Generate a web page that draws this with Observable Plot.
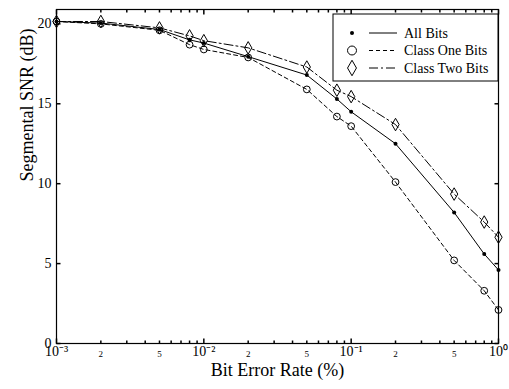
<!DOCTYPE html>
<html>
<head>
<meta charset="utf-8">
<script src="https://cdn.jsdelivr.net/npm/d3@7"></script>
<script src="https://cdn.jsdelivr.net/npm/@observablehq/plot@0.6"></script>
<style>
  html, body { margin: 0; padding: 0; background: white; }
  #chart { position: relative; width: 509px; height: 389px; }
</style>
</head>
<body>
<div id="chart"></div>
<script>
// ---- data ----
const ber = [0.001, 0.002, 0.005, 0.008, 0.01, 0.02, 0.05, 0.08, 0.1, 0.2, 0.5, 0.8, 1.0];
const allBits  = [20.15, 20.05, 19.65, 19.0, 18.8, 17.95, 16.8, 15.3, 14.5, 12.5, 8.2, 5.6, 4.6];
const classOne = [20.15, 20.0, 19.6, 18.7, 18.4, 17.9, 15.9, 14.2, 13.6, 10.1, 5.2, 3.3, 2.1];
const classTwo = [20.15, 20.15, 19.75, 19.25, 18.95, 18.5, 17.3, 15.85, 15.45, 13.7, 9.35, 7.6, 6.65];
const seriesNames = ["All Bits", "Class One Bits", "Class Two Bits"];

const yTicks = [0, 5, 10, 15, 20];
const majorX = [0.001, 0.01, 0.1, 1];
const majorXLabels = ["10\u207B\u00B3", "10\u207B\u00B2", "10\u207B\u00B9", "10\u2070"];
const minorLabelX = [0.002, 0.005, 0.02, 0.05, 0.2, 0.5];
const minorLabels = ["2", "5", "2", "5", "2", "5"];
const minorX = [0.002, 0.003, 0.004, 0.005, 0.006, 0.007, 0.008, 0.009,
                0.02, 0.03, 0.04, 0.05, 0.06, 0.07, 0.08, 0.09,
                0.2, 0.3, 0.4, 0.5, 0.6, 0.7, 0.8, 0.9];
const xDomain = [0.001, 1];
const yDomain = [0, 20.9];
const xTitle = "Bit Error Rate (%)";
const yTitle = "Segmental SNR (dB)";

// ---- build table ----
const seriesValues = [allBits, classOne, classTwo];
const rows = [];
seriesNames.forEach((name, s) => ber.forEach((b, i) => rows.push({series: name, ber: b, snr: seriesValues[s][i]})));
const bySeries = name => rows.filter(r => r.series === name);

const dashes = {"All Bits": null, "Class One Bits": "4,3", "Class Two Bits": "9,3,2,3"};

// tick symbols drawn by the dot mark (length = r)
const tickSym = (ux, uy) => ({draw(ctx, size) { const l = Math.sqrt(size / Math.PI); ctx.moveTo(0, 0); ctx.lineTo(ux * l, uy * l); }});

const FONT = "Liberation Serif, Times New Roman, serif";

const chart = Plot.plot({
  width: 509,
  height: 389,
  marginLeft: 56,
  marginRight: 11,
  marginTop: 9,
  marginBottom: 46,
  style: {fontFamily: FONT, fontSize: "14px", background: "white", color: "black"},
  x: {type: "log", domain: xDomain, label: null},
  y: {domain: yDomain, label: null},
  marks: [
    // lines
    ...seriesNames.map(n => Plot.line(bySeries(n), {x: "ber", y: "snr", stroke: "black", strokeWidth: 1, strokeDasharray: dashes[n]})),
    // markers
    Plot.dot(bySeries("All Bits"), {x: "ber", y: "snr", r: 2, fill: "black", stroke: "none"}),
    Plot.dot(bySeries("Class One Bits"), {x: "ber", y: "snr", r: 3.4, symbol: "circle", fill: "none", stroke: "black", strokeWidth: 1}),
    Plot.dot(bySeries("Class Two Bits"), {x: "ber", y: "snr", r: 3.8, symbol: "diamond", fill: "none", stroke: "black", strokeWidth: 1}),
    // frame
    Plot.frame({stroke: "black", strokeWidth: 1.2}),
    // inward ticks
    Plot.dot(yTicks, {x: () => xDomain[0], y: d => d, symbol: tickSym(1, 0), r: 4, stroke: "black", fill: "none"}),
    Plot.dot(yTicks, {x: () => xDomain[1], y: d => d, symbol: tickSym(-1, 0), r: 4, stroke: "black", fill: "none"}),
    Plot.dot(majorX, {x: d => d, y: () => yDomain[0], symbol: tickSym(0, -1), r: 5, stroke: "black", fill: "none"}),
    Plot.dot(majorX, {x: d => d, y: () => yDomain[1], symbol: tickSym(0, 1), r: 5, stroke: "black", fill: "none"}),
    Plot.dot(minorX, {x: d => d, y: () => yDomain[0], symbol: tickSym(0, -1), r: 3, stroke: "black", fill: "none"}),
    Plot.dot(minorX, {x: d => d, y: () => yDomain[1], symbol: tickSym(0, 1), r: 3, stroke: "black", fill: "none"}),
    // axis labels
    Plot.axisY(yTicks, {tickSize: 0, tickPadding: 5, fontSize: 14, label: null}),
    Plot.axisX(majorX, {tickSize: 0, tickPadding: 3, fontSize: 14, label: null, tickFormat: d => majorXLabels[majorX.indexOf(d)]}),
    Plot.text(minorLabelX, {x: d => d, y: () => yDomain[0], text: (d, i) => minorLabels[i], dy: 11, fontSize: 9}),
    // titles
    Plot.text([xTitle], {frameAnchor: "bottom", text: d => d, dy: 32, fontSize: 18}),
    Plot.text([yTitle], {frameAnchor: "left", text: d => d, rotate: -90, dx: -29, dy: 5, fontSize: 18})
  ]
});
document.getElementById("chart").appendChild(chart);

// ---- legend (inside the plot, top right) ----
const svg = d3.select(chart);
const lg = svg.append("g").attr("font-family", FONT).attr("font-size", 14).attr("text-anchor", "start");
lg.append("rect").attr("x", 333).attr("y", 14).attr("width", 165).attr("height", 67)
  .attr("fill", "white").attr("stroke", "black").attr("stroke-width", 1);
const legendSyms = [d3.symbolCircle, d3.symbolCircle, d3.symbolDiamond];
const legendSizes = [Math.PI * 4, Math.PI * 20, Math.PI * 22];
seriesNames.forEach((name, i) => {
  const cy = 33 + i * 17.5;
  const g = lg.append("g");
  g.append("path").attr("transform", `translate(352,${cy})`)
    .attr("d", d3.symbol(legendSyms[i], legendSizes[i])())
    .attr("fill", i === 0 ? "black" : "none").attr("stroke", i === 0 ? "none" : "black");
  g.append("line").attr("x1", 369).attr("x2", 397).attr("y1", cy).attr("y2", cy)
    .attr("stroke", "black").attr("stroke-dasharray", dashes[name]);
  g.append("text").attr("x", 404).attr("y", cy).attr("dy", "0.35em").attr("text-anchor", "start").text(name);
});
</script>
</body>
</html>
